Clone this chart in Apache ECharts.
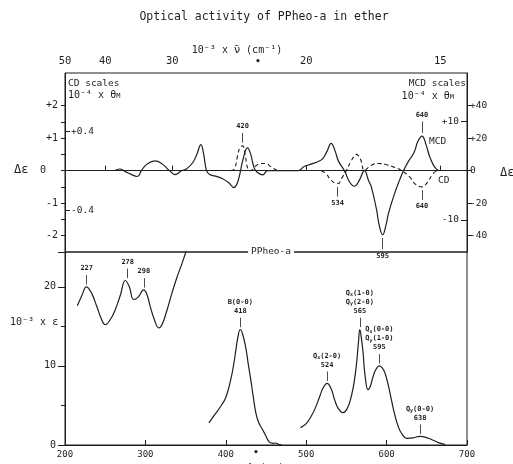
<!DOCTYPE html>
<html>
<head>
<meta charset="utf-8">
<script src="https://cdn.jsdelivr.net/npm/echarts@6/dist/echarts.min.js"></script>
<style>
html, body { margin: 0; padding: 0; background: #fff; }
#chart { width: 513px; height: 464px; }
</style>
</head>
<body>
<div id="chart"></div>
<script>
// top panel: Δε against wavelength (nm); solid = MCD, dashed = CD
var mcdPoints = [[262,0],[268,0.05],[275,-0.03],[281,-0.1],[290,-0.18],[295,0],[302,0.2],[312,0.3],[321,0.2],[330,0],
  [337,-0.12],[345,0],[351,0.05],[359,0.25],[364,0.5],[369,0.8],[372.5,0.5],[376,0],[380,-0.12],[387,-0.17],
  [396,-0.25],[404,-0.38],[410,-0.52],[414,-0.4],[417.5,-0.1],[421,0.3],[427,0.7],[431,0.5],[435,0.1],[439,-0.05],
  [446,-0.13],[452,0],[490,0],[497,0.12],[506,0.2],[515,0.28],[521,0.38],[526,0.6],[531,0.84],[536,0.6],
  [540,0.3],[547.5,0],[554,-0.35],[560,-0.48],[566,-0.3],[572.5,0],[577.5,-0.3],[581,-0.5],[587.5,-1.2],[591,-1.7],
  [595,-1.97],[599,-1.7],[602.5,-1.3],[610,-0.7],[616,-0.3],[621,0],[627.5,0.3],[634,0.55],[639,0.9],[644,1.06],
  [649,0.8],[654,0.4],[660,0.1],[665,0]];
var cdPoints = [[406,0],[410.6,0.05],[414.6,0.45],[417.5,0.7],[421,0.76],[424,0.5],[427.5,0.05],[431,0],[437.5,0.15],[444,0.22],
  [450,0.22],[456,0.12],[464,0],[490,null],[519,0],[525,-0.1],[531,-0.3],[539,-0.4],[545,-0.2],[550,0],
  [556,0.3],[562.5,0.5],[567.5,0.35],[572.5,0],[577.5,0.1],[584,0.2],[590,0.22],[600,0.18],[610,0.1],[619,0],
  [629,-0.2],[635,-0.4],[644,-0.5],[651,-0.35],[657.5,-0.1],[662.5,0]];

// bottom panel: 10^-3 x ε against wavelength (nm)
var absPoints = [[215.4,17.6],[221,18.9],[226.7,20.0],[233,19.2],[239.6,17.5],[245,16.0],[250,15.2],[256,15.8],[262.5,17.1],[269,19.0],
  [275,20.8],[280,20.0],[285.4,18.4],[291,18.7],[297.9,19.6],[302,19.0],[306,17.5],[311,15.9],[316.7,14.8],[321,15.3],
  [327,17.1],[333,19.2],[339.6,21.3],[345,22.8],[350,24.3],[353,25.3],[365,null],
  [379,2.8],[386,3.8],[393.75,4.9],[400,6.0],[406,8.2],[410,10.3],[412.5,12],[415,13.6],[418,14.6],[421,14.0],
  [425,12.2],[428,10.2],[431,8.3],[434,6.2],[437.5,4.0],[441,2.8],[446,1.9],[450,1.1],[454,0.4],[459,0.2],
  [462,0.25],[466,0.05],[470,0],[480,null],
  [492.9,2.2],[500,2.7],[506,3.6],[511,4.6],[516.7,6.1],[521,7.2],[526,7.8],[531,7.1],[535.4,5.7],[540,4.6],
  [545.8,4.1],[551,4.6],[556,6.1],[560,8.2],[562.5,10.2],[565,13.0],[566.7,14.6],[568.5,13.6],[570.8,11.6],[573,9.0],
  [577,7.0],[580,7.5],[583,8.6],[587,9.6],[591,10.0],[595,9.7],[598,9.1],[602,7.6],[606,5.7],[610,3.9],
  [614.6,2.3],[619,1.4],[625,0.85],[633,0.9],[641.6,1.1],[652,0.85],[658,0.6],[664.6,0.3],[673,0.05]];

// peak labels
var absPeakWl = [227, 278, 298, 418, 526, 566.7, 591, 641.6];
var absPeakEps = [20.0, 20.8, 19.6, 14.6, 7.8, 14.6, 10.0, 1.1];
var absPeakText = ['227', '278', '298', '418', '524', '565', '595', '638'];
var absPeakBand = ['', '', '', 'B(0-0)', 'Q_x(2-0)', 'Q_x(1-0)\nQ_y(2-0)', 'Q_x(0-0)\nQ_y(1-0)', 'Q_y(0-0)'];
var mcdPeakWl = [595, 644];
var mcdPeakVal = [-1.97, 1.06];
var mcdPeakText = ['595', '640'];
var cdPeakWl = [421, 539, 644];
var cdPeakVal = [0.76, -0.4, -0.5];
var cdPeakText = ['420', '534', '640'];

// axis ticks
var wnTicks = [50, 40, 30, 20, 15];          // 10^-3 x wavenumber (cm^-1)
var deLabels = [2, 1, 0, -1, -2];
var deTicks = [2, 1.5, 1, 0.5, 0, -0.5, -1, -1.5, -2];
var cdThetaLabels = [0.4, -0.4];
var mcdDeLabels = [40, 20, 0, -20, -40];
var mcdThetaLabels = [10, -10];

var TH = 0.3298;   // 10^-4 θM per Δε
var MCDF = 20;     // MCD scale factor
var TOP_MIN = -2.5, TOP_MAX = 3.0;

var INK = '#1e1e1e';
var MONO = '"DejaVu Sans Mono"';

function sgn(v) { return v > 0 ? '+' + v : String(v); }

function peakLines(xs, ys, names, gap, len) {
  return xs.map(function (x, i) {
    var s = ys[i] >= 0 ? 1 : -1;
    return [{ coord: [x, ys[i] + s * gap], name: names[i] }, { coord: [x, ys[i] + s * (gap + len)] }];
  });
}

var absNames = absPeakText.map(function (t, i) {
  var b = absPeakBand[i].replace(/_(\w)/g, '{s|$1}');
  return b ? b + '\n' + t : t;
});

function peakLabel() {
  return {
    position: 'end', distance: 2, formatter: '{b}', color: INK,
    fontFamily: MONO, fontSize: 7, fontWeight: 'bold', lineHeight: 9,
    rich: { s: { fontSize: 5, fontFamily: MONO, fontWeight: 'bold', verticalAlign: 'bottom' } }
  };
}

var myChart = echarts.init(document.getElementById('chart'));

myChart.setOption({
  animation: false,
  backgroundColor: '#fff',
  textStyle: { fontFamily: MONO, color: INK },
  grid: [
    { left: 65, right: 46, top: 73, height: 179, outerBoundsMode: 'none', show: true, borderColor: INK, borderWidth: 1 },
    { left: 65, right: 46, top: 252, height: 193, outerBoundsMode: 'none', show: true, borderColor: INK, borderWidth: 1 }
  ],
  xAxis: [
    {
      gridIndex: 0, type: 'value', position: 'top', min: 200, max: 700,
      axisLine: { lineStyle: { color: INK } },
      axisTick: { length: 5, lineStyle: { color: INK }, customValues: wnTicks.map(function (v) { return 1e4 / v; }) },
      axisLabel: {
        customValues: wnTicks.map(function (v) { return 1e4 / v; }), margin: 6,
        fontSize: 10.5, color: INK, formatter: function (v) { return Math.round(1e4 / v); }
      },
      splitLine: { show: false }
    },
    {
      gridIndex: 1, type: 'value', position: 'bottom', min: 200, max: 700, interval: 100,
      name: 'λ (nm)', nameLocation: 'middle', nameGap: 18, nameTextStyle: { fontSize: 10, color: INK },
      axisLine: { lineStyle: { color: INK } },
      axisTick: { inside: true, length: 5, lineStyle: { color: INK } },
      axisLabel: { fontSize: 9, color: INK, margin: 5 },
      splitLine: { show: false }
    }
  ],
  yAxis: [
    {
      gridIndex: 0, type: 'value', position: 'left', min: TOP_MIN, max: TOP_MAX,
      axisLine: { show: true, lineStyle: { color: INK } },
      axisTick: { length: 4, customValues: deTicks, lineStyle: { color: INK } },
      axisLabel: {
        customValues: deLabels, fontSize: 10, color: INK, margin: 7,
        formatter: function (v) { return v === 0 ? '{z|0}' : sgn(v); },
        rich: { z: { fontSize: 10, fontFamily: MONO, padding: [0, 12, 0, 0] } }
      },
      splitLine: { show: false }
    },
    {
      gridIndex: 0, type: 'value', position: 'left', min: TOP_MIN * TH, max: TOP_MAX * TH,
      axisLine: { show: false },
      axisTick: { inside: true, length: 5, customValues: cdThetaLabels, lineStyle: { color: INK } },
      axisLabel: { inside: true, customValues: cdThetaLabels, fontSize: 9.5, color: INK, margin: 6, formatter: sgn },
      splitLine: { show: false }
    },
    {
      gridIndex: 0, type: 'value', position: 'right', min: TOP_MIN * MCDF, max: TOP_MAX * MCDF,
      axisLine: { show: true, lineStyle: { color: INK } },
      axisTick: { length: 5, customValues: mcdDeLabels, lineStyle: { color: INK } },
      axisLabel: { customValues: mcdDeLabels, fontSize: 9.5, color: INK, margin: 3, formatter: sgn },
      splitLine: { show: false }
    },
    {
      gridIndex: 0, type: 'value', position: 'right', min: TOP_MIN * MCDF * TH, max: TOP_MAX * MCDF * TH,
      axisLine: { show: false },
      axisTick: { inside: true, length: 6, customValues: mcdThetaLabels, lineStyle: { color: INK } },
      axisLabel: { inside: true, customValues: mcdThetaLabels, fontSize: 9.5, color: INK, margin: 8, formatter: sgn },
      splitLine: { show: false }
    },
    {
      gridIndex: 1, type: 'value', position: 'left', min: 0, max: 24.4, interval: 10,
      axisLine: { show: true, lineStyle: { color: INK } },
      axisTick: { length: 7, lineStyle: { color: INK } },
      minorTick: { show: true, splitNumber: 2, length: 4, lineStyle: { color: INK } },
      axisLabel: { fontSize: 10, color: INK, margin: 9, showMaxLabel: false },
      splitLine: { show: false }
    }
  ],
  series: [
    {
      name: 'MCD', type: 'line', xAxisIndex: 0, yAxisIndex: 0, data: mcdPoints,
      showSymbol: false, smooth: 0.45,
      lineStyle: { color: INK, width: 1.2 },
      markLine: {
        silent: true, symbol: ['none', 'none'], animation: false,
        lineStyle: { color: INK, type: 'solid', width: 0.8 },
        label: peakLabel(),
        data: [{ yAxis: 0, name: '', label: { show: false }, lineStyle: { width: 1, color: INK } }]
          .concat(peakLines(mcdPeakWl, mcdPeakVal, mcdPeakText, 0.1, 0.35))
      }
    },
    {
      name: 'CD', type: 'line', xAxisIndex: 0, yAxisIndex: 0, data: cdPoints,
      showSymbol: false, smooth: 0.45, connectNulls: false,
      lineStyle: { color: INK, width: 1.1, type: [4, 3] },
      markLine: {
        silent: true, symbol: ['none', 'none'], animation: false,
        lineStyle: { color: INK, type: 'solid', width: 0.8 },
        label: peakLabel(),
        data: peakLines(cdPeakWl, cdPeakVal, cdPeakText, 0.1, 0.3)
      }
    },
    {
      name: 'PPheo-a', type: 'line', xAxisIndex: 1, yAxisIndex: 4, data: absPoints,
      showSymbol: false, smooth: 0.45, connectNulls: false,
      lineStyle: { color: INK, width: 1.2 },
      markLine: {
        silent: true, symbol: ['none', 'none'], animation: false,
        lineStyle: { color: INK, type: 'solid', width: 0.8 },
        label: peakLabel(),
        data: peakLines(absPeakWl, absPeakEps, absNames, 0.3, 1.2)
      }
    }
  ],
  graphic: [
    { type: 'text', x: 264, y: 17, style: { text: 'Optical activity of PPheo-a in ether', font: '11.5px ' + MONO, fill: INK, textAlign: 'center', textVerticalAlign: 'middle' } },
    { type: 'text', x: 237, y: 50, style: { text: '10⁻³ x {n|ν̄} (cm⁻¹)', font: '10px ' + MONO, fill: INK, textAlign: 'center', textVerticalAlign: 'middle', rich: { n: { fontSize: 11, fontFamily: '"DejaVu Sans"' } } } },
    { type: 'text', x: 258, y: 62, style: { text: '•', font: 'bold 9px ' + MONO, fill: INK, textAlign: 'center', textVerticalAlign: 'middle' } },
    { type: 'text', x: 256, y: 453, style: { text: '•', font: 'bold 9px ' + MONO, fill: INK, textAlign: 'center', textVerticalAlign: 'middle' } },
    { type: 'text', x: 68, y: 84, style: { text: 'CD scales', font: '9.5px ' + MONO, fill: INK, textAlign: 'left', textVerticalAlign: 'middle' } },
    { type: 'text', x: 68, y: 95, style: { text: '10⁻⁴ x θ{s|M}', font: '10px ' + MONO, fill: INK, textAlign: 'left', textVerticalAlign: 'middle', rich: { s: { fontSize: 7, fontFamily: MONO, verticalAlign: 'bottom' } } } },
    { type: 'text', x: 466, y: 84, style: { text: 'MCD scales', font: '9.5px ' + MONO, fill: INK, textAlign: 'right', textVerticalAlign: 'middle' } },
    { type: 'text', x: 454, y: 96, style: { text: '10⁻⁴ x θ{s|M}', font: '10px ' + MONO, fill: INK, textAlign: 'right', textVerticalAlign: 'middle', rich: { s: { fontSize: 7, fontFamily: MONO, verticalAlign: 'bottom' } } } },
    { type: 'text', x: 14, y: 170, style: { text: 'Δε', font: '12px ' + MONO, fill: INK, textAlign: 'left', textVerticalAlign: 'middle' } },
    { type: 'text', x: 500, y: 173, style: { text: 'Δε', font: '12px ' + MONO, fill: INK, textAlign: 'left', textVerticalAlign: 'middle' } },
    { type: 'text', x: 429, y: 142, style: { text: 'MCD', font: '9.5px ' + MONO, fill: INK, textAlign: 'left', textVerticalAlign: 'middle' } },
    { type: 'text', x: 438, y: 181, style: { text: 'CD', font: '9.5px ' + MONO, fill: INK, textAlign: 'left', textVerticalAlign: 'middle' } },
    { type: 'text', x: 271, y: 252, style: { text: 'PPheo-a', font: '9.5px ' + MONO, fill: INK, backgroundColor: '#fff', padding: [0, 3], textAlign: 'center', textVerticalAlign: 'middle' } },
    { type: 'text', x: 10, y: 322, style: { text: '10⁻³ x ε', font: '10px ' + MONO, fill: INK, textAlign: 'left', textVerticalAlign: 'middle' } }
  ]
});
</script>
</body>
</html>
